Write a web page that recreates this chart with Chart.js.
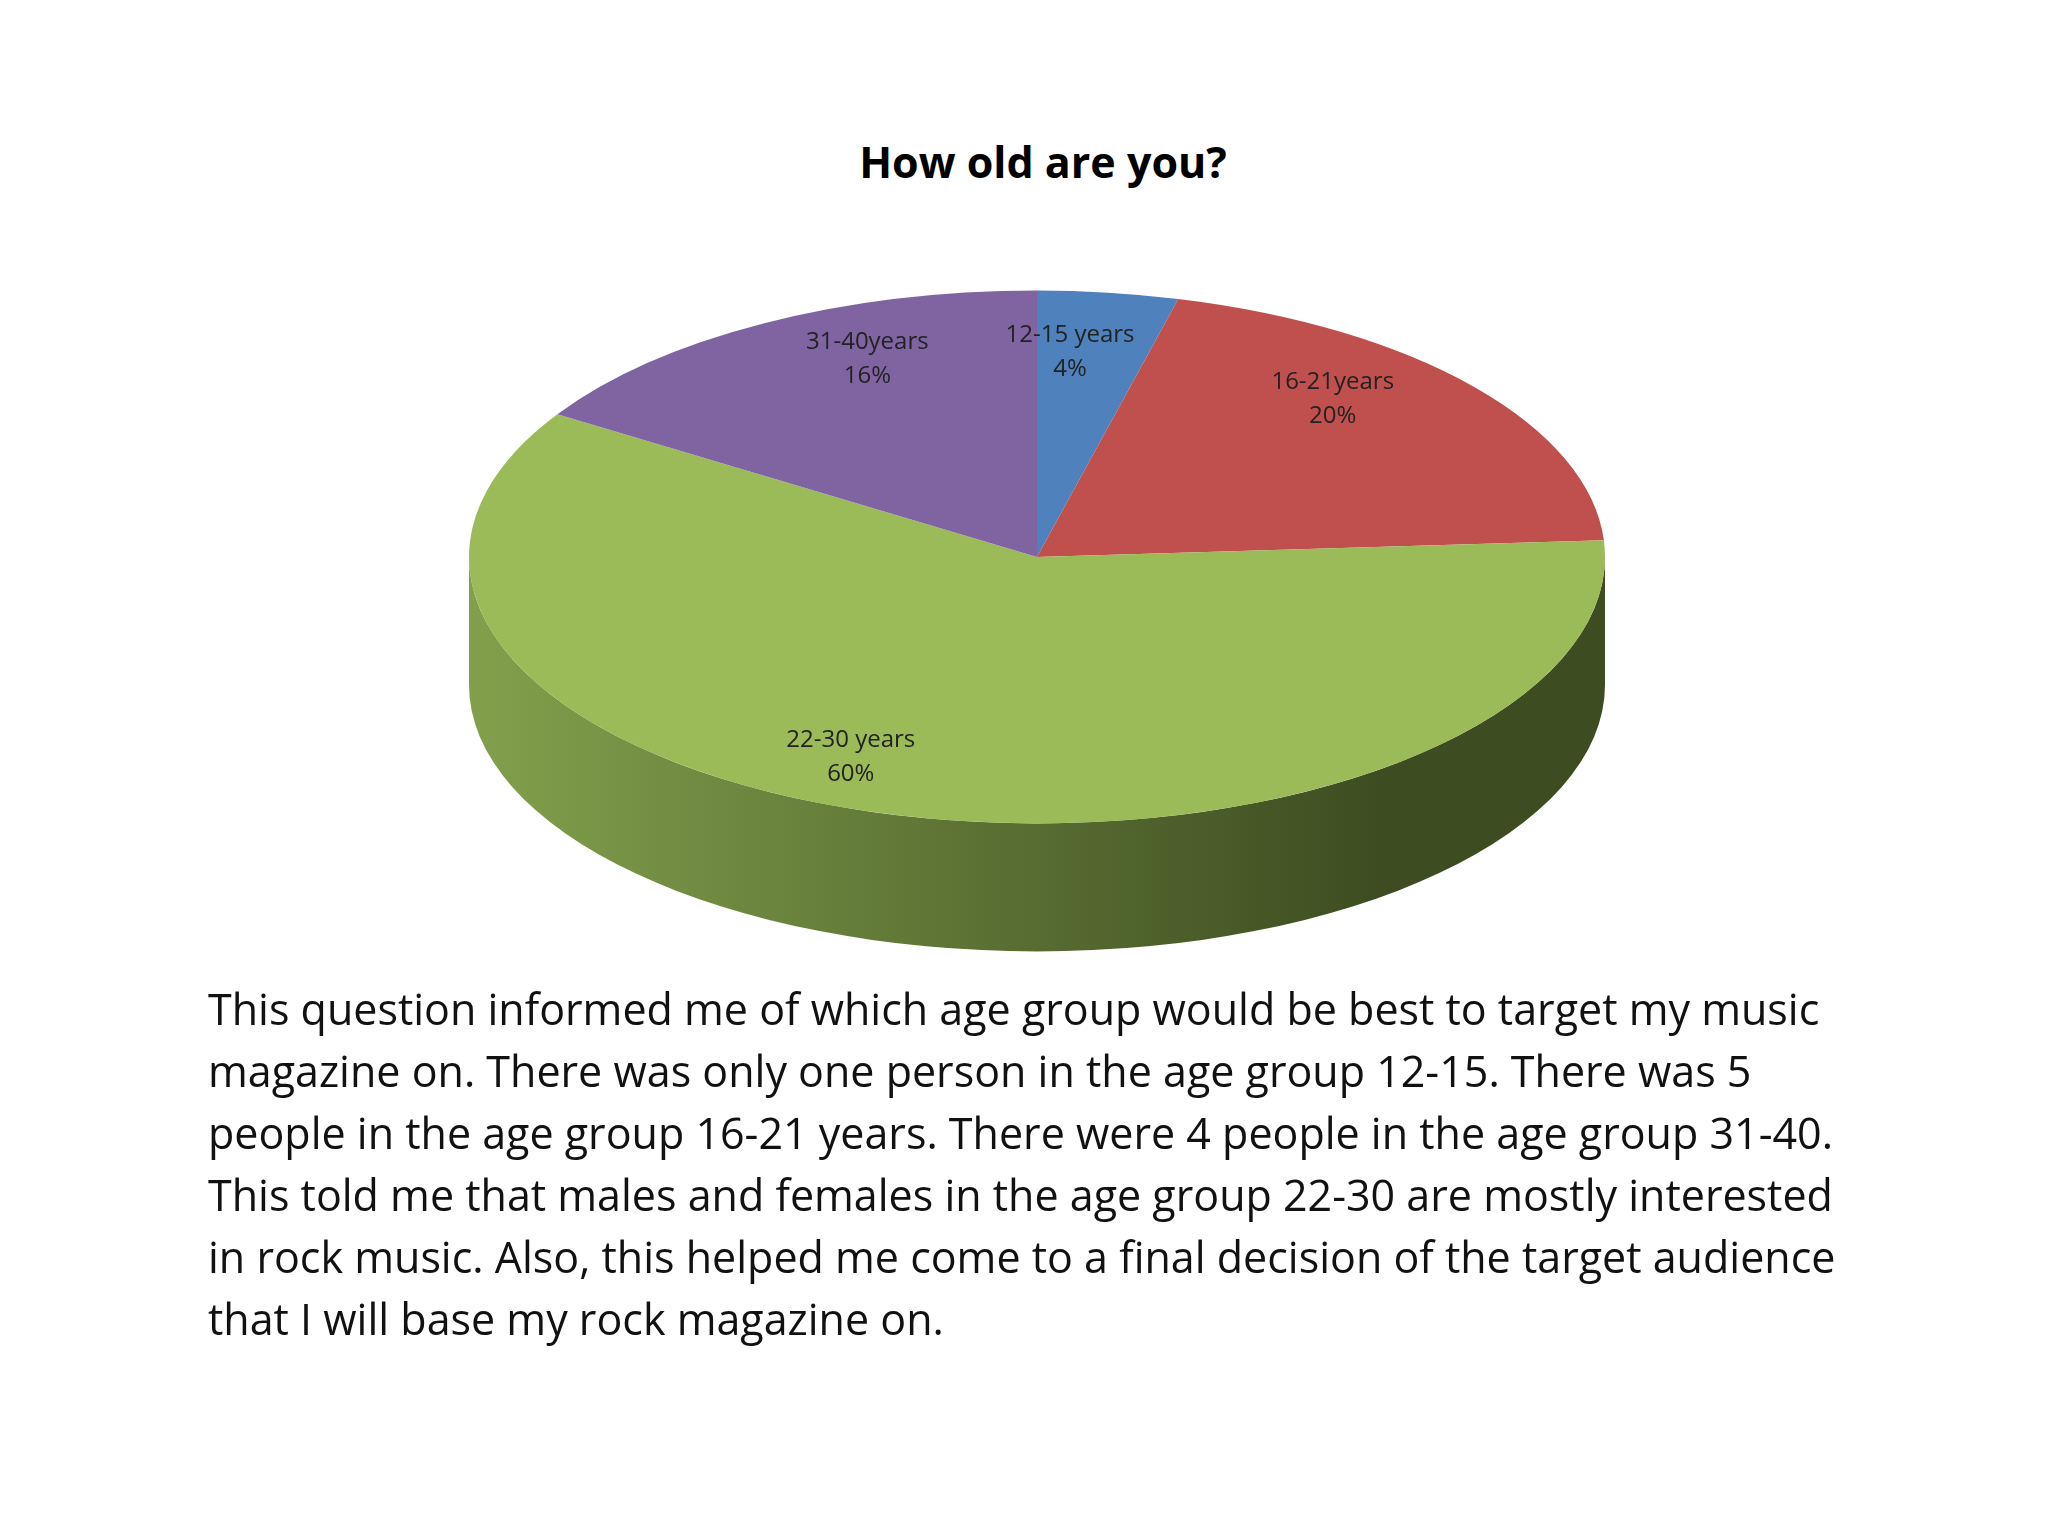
<!DOCTYPE html>
<html>
<head>
<meta charset="utf-8">
<script src="https://cdn.jsdelivr.net/npm/chart.js@4.4.0/dist/chart.umd.min.js"></script>
<style>
  body { margin: 0; width: 2048px; height: 1536px; background: #fff; position: relative; overflow: hidden; font-family: "Open Sans", sans-serif; }
  #title { position: absolute; top: 132px; left: 0; width: 2086px; text-align: center; font-weight: bold; font-size: 43px; color: #000; }
  #wrap { position: absolute; left: 469px; top: -11px; width: 1136px; height: 1136px; }
  #text { position: absolute; left: 208px; top: 978px; width: 1800px; font-size: 43px; line-height: 62px; color: #111; white-space: nowrap; }
</style>
</head>
<body>
<div id="title">How old are you?</div>
<div id="wrap"><canvas id="pieChart"></canvas></div>
<div id="text">This question informed me of which age group would be best to target my music<br>magazine on. There was only one person in the age group 12-15. There was 5<br>people in the age group 16-21 years. There were 4 people in the age group 31-40.<br>This told me that males and females in the age group 22-30 are mostly interested<br>in rock music. Also, this helped me come to a final decision of the target audience<br>that I will base my rock magazine on.</div>
<script>
const labels = ['12-15 years', '16-21years', '22-30 years', '31-40years'];
const values = [4, 20, 60, 16];
const colors = ['#4f81bd', '#c0504d', '#9bbb59', '#8064a2'];
const sideDark = ['#2c4a70', '#74302e', '#3d4d21', '#4a3a60'];
const sideLight = ['#4a70a0', '#a04542', '#82a04c', '#6a5488'];

const tilt = 0.469;
const depth = 128;

// 3D look: squash the pie vertically and draw an extruded front wall
const pie3d = {
  id: 'pie3d',
  beforeDatasetsDraw(chart) {
    const ctx = chart.ctx;
    const arcs = chart.getDatasetMeta(0).data;
    const cx = arcs[0].x, cy = arcs[0].y, r = arcs[0].outerRadius, ry = r * tilt;
    arcs.forEach((a, i) => {
      const s = Math.max(a.startAngle, 0), e = Math.min(a.endAngle, Math.PI);
      if (e <= s) return;
      const g = ctx.createLinearGradient(cx - r, 0, cx + r, 0);
      g.addColorStop(0, sideLight[i]);
      g.addColorStop(0.8, sideDark[i]);
      g.addColorStop(1, sideDark[i]);
      ctx.save();
      ctx.beginPath();
      ctx.ellipse(cx, cy, r, ry, 0, s, e, false);
      ctx.ellipse(cx, cy + depth, r, ry, 0, e, s, true);
      ctx.closePath();
      ctx.fillStyle = g;
      ctx.fill();
      ctx.restore();
    });
    ctx.save();
    ctx.translate(cx, cy);
    ctx.scale(1, tilt);
    ctx.translate(-cx, -cy);
  },
  afterDatasetsDraw(chart) {
    const ctx = chart.ctx;
    ctx.restore();
    const arcs = chart.getDatasetMeta(0).data;
    const total = values.reduce((p, c) => p + c, 0);
    ctx.font = '24px "Open Sans", sans-serif';
    ctx.fillStyle = '#222';
    ctx.textAlign = 'center';
    ctx.textBaseline = 'middle';
    const frac = [0.77, 0.79, 0.82, 0.80];
    const turn = [-0.05, -0.16, 0.16, 0.12];
    arcs.forEach((a, i) => {
      const m = (a.startAngle + a.endAngle) / 2 + turn[i];
      const rr = a.outerRadius * frac[i];
      const x = a.x + Math.cos(m) * rr;
      const y = a.y + Math.sin(m) * rr * tilt;
      ctx.fillText(labels[i], x, y - 17);
      ctx.fillText(Math.round(values[i] / total * 100) + '%', x, y + 17);
    });
  }
};

new Chart(document.getElementById('pieChart'), {
  type: 'pie',
  data: {
    labels: labels,
    datasets: [{ data: values, backgroundColor: colors, borderWidth: 0 }]
  },
  options: {
    responsive: true,
    maintainAspectRatio: false,
    animation: false,
    layout: { padding: 0 },
    plugins: { legend: { display: false }, tooltip: { enabled: false } }
  },
  plugins: [pie3d]
});
</script>
</body>
</html>
